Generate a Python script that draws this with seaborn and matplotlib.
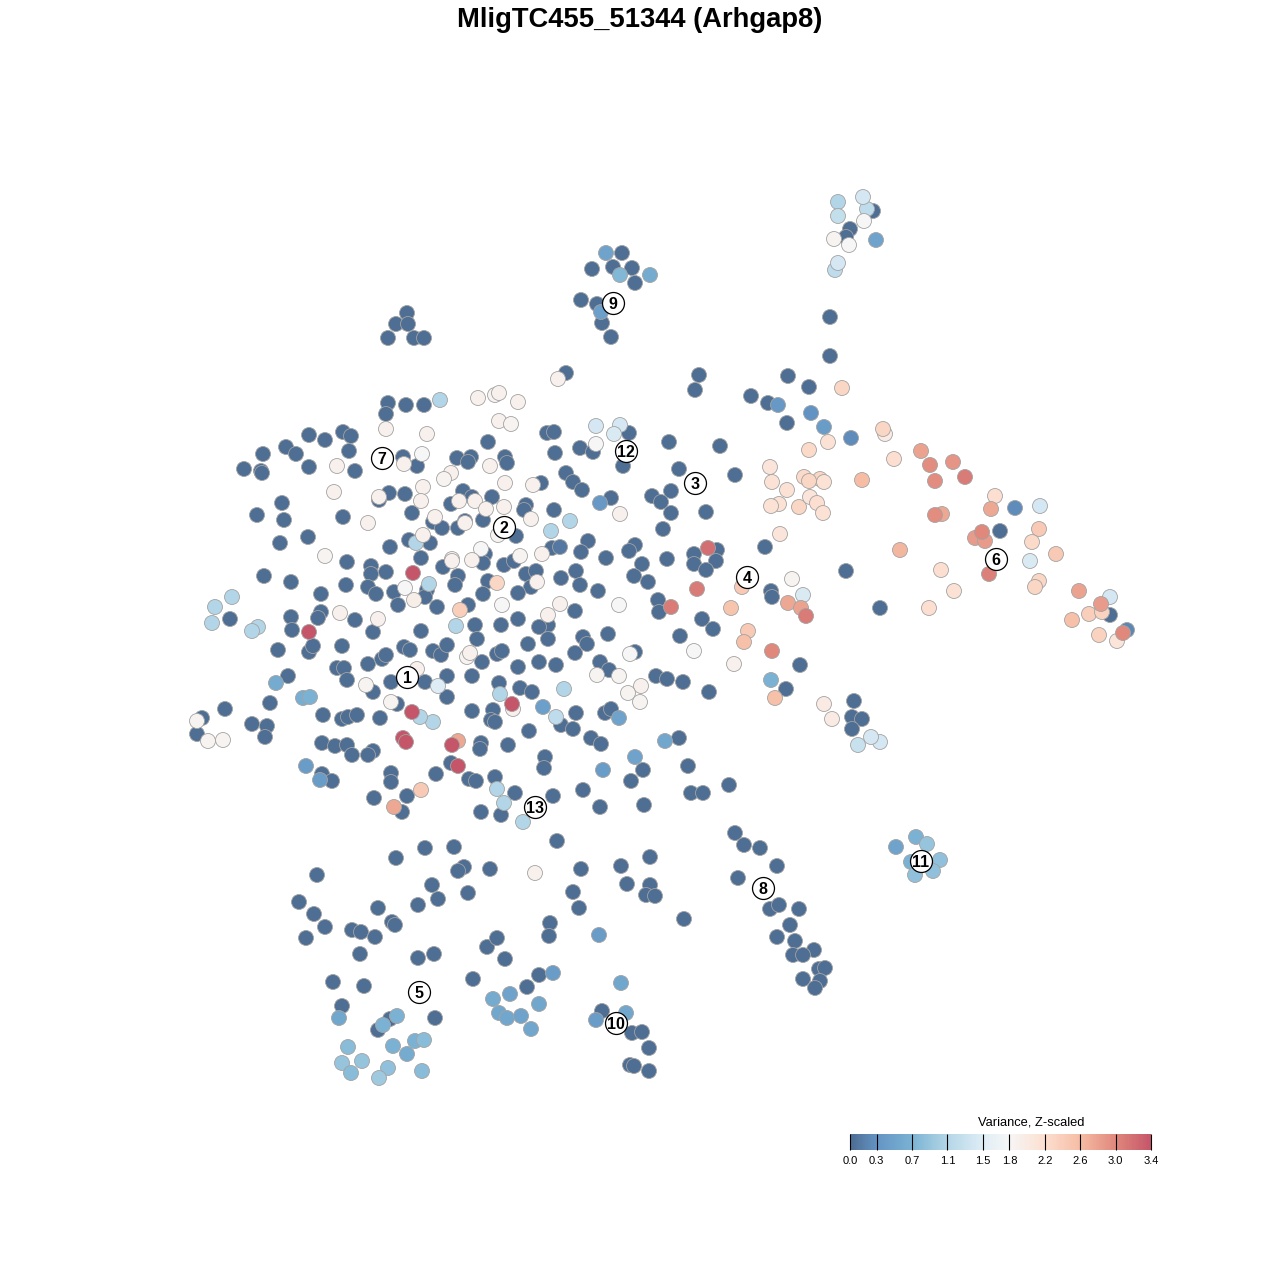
import pandas as pd
import seaborn as sns
import matplotlib.pyplot as plt
from matplotlib.cm import ScalarMappable
from matplotlib.colors import LinearSegmentedColormap, Normalize

gene_title = 'MligTC455_51344 (Arhgap8)'
legend_title = 'Variance, Z-scaled'

# colour scale stops
scale_ticks = [0.0, 0.3, 0.7, 1.1, 1.5, 1.8, 2.2, 2.6, 3.0, 3.4]
scale_colors = ['#4d6c92', '#6494c4', '#7bb3d3', '#b3d6e7', '#dfedf5',
                '#f6f6f6', '#fcdfd0', '#f6bda4', '#e0887c', '#c5566a']

# cells at (almost) zero variance, tSNE coordinates
silent_cells = [
    (388,403),(406,405),(424,405),(386,414),(309,435),(325,440),(343,432),(351,436),(286,447),(296,454),
    (263,454),(349,451),(244,469),(261,471),(262,473),(309,467),(355,471),(403,457),(417,466),(488,442),
    (457,458),(471,457),(468,462),(505,457),(507,463),(389,493),(379,500),(405,494),(282,503),(257,515),
    (284,520),(343,517),(412,513),(463,491),(472,497),(451,504),(492,497),(433,522),(442,528),(458,528),
    (465,521),(483,520),(308,537),(280,543),(390,547),(409,540),(430,543),(421,558),(485,554),(483,563),
    (504,565),(443,567),(458,576),(455,585),(488,581),(483,594),(347,562),(371,566),(371,574),(386,572),
    (264,576),(291,582),(346,585),(368,587),(376,594),(394,592),(321,594),(427,590),(425,597),(398,605),
    (437,607),(468,605),(230,619),(291,617),(321,612),(318,618),(355,620),(292,630),(373,632),(421,631),
    (475,625),(501,625),(278,650),(309,652),(313,646),(342,646),(477,639),(404,647),(410,650),(433,651),
    (441,655),(447,645),(482,662),(497,654),(502,651),(368,664),(382,659),(386,655),(337,668),(344,668),
    (347,680),(288,676),(391,682),(425,682),(447,676),(472,676),(499,683),(373,692),(447,697),(270,703),
    (397,704),(323,715),(342,719),(348,717),(357,715),(380,718),(472,711),(493,710),(491,720),(495,722),
    (225,709),(202,718),(252,724),(267,726),(197,734),(265,737),(322,743),(335,746),(347,745),(352,755),
    (373,751),(368,755),(481,743),(480,749),(508,745),(451,763),(436,774),(322,774),(332,781),(391,773),
    (391,782),(469,779),(476,781),(495,777),(407,796),(374,798),(402,812),(481,812),(501,815),
    (547,433),(554,432),(629,433),(669,442),(720,446),(580,448),(593,452),(555,453),(623,466),(566,473),
    (573,482),(582,490),(679,469),(735,475),(541,483),(671,491),(652,496),(661,502),(671,513),(706,512),
    (611,498),(554,510),(526,505),(524,510),(663,529),(516,536),(588,541),(581,552),(552,548),(635,545),
    (629,551),(606,558),(667,559),(642,564),(717,550),(694,554),(694,564),(716,561),(706,570),(514,561),
    (576,571),(561,578),(580,585),(634,576),(648,582),(598,591),(526,574),(536,571),(531,587),(518,593),
    (658,600),(659,612),(575,611),(702,619),(713,629),(518,619),(548,625),(539,627),(583,637),(608,634),
    (680,636),(528,644),(548,639),(587,644),(575,653),(518,667),(539,662),(556,665),(600,662),(609,670),
    (635,652),(520,688),(532,692),(656,676),(667,679),(683,682),(709,692),(576,713),(605,713),(611,709),
    (561,725),(573,729),(529,731),(591,738),(601,744),(679,738),(545,757),(544,768),(643,770),(688,766),
    (631,781),(515,793),(553,796),(583,790),(691,793),(703,793),(729,785),(600,807),(644,805),(557,841),
    # upper islands
    (873,211),(850,229),(846,237),(830,317),(830,356),(622,253),(613,267),(632,268),(635,283),(592,269),
    (581,300),(597,304),(602,323),(611,337),(407,313),(396,324),(408,324),(388,338),(414,338),(424,338),
    (566,373),(699,375),(695,390),(788,376),(809,387),(751,396),(768,403),(787,423),
    # right side
    (846,571),(880,608),(1000,531),(1110,615),(771,591),(772,597),(800,665),(786,689),(854,701),(852,717),
    (862,719),(852,729),(765,547),
    # lower part
    (396,858),(425,848),(454,847),(464,867),(458,871),(490,869),(317,875),(432,885),(418,905),(438,899),
    (468,893),(299,902),(314,914),(378,908),(325,927),(392,922),(395,925),(352,930),(361,932),(375,937),
    (306,938),(360,954),(487,947),(497,938),(418,958),(434,954),(505,959),(473,979),(333,982),(364,986),
    (342,1006),(435,1018),(539,975),(527,987),(550,923),(549,936),(573,892),(579,908),(581,869),(621,866),
    (650,857),(627,884),(650,885),(646,895),(655,896),(684,919),(378,1030),(390,1019),
    # cluster 8
    (735,833),(744,845),(760,848),(777,866),(738,878),(770,909),(779,905),(799,909),(790,925),(777,937),
    (795,941),(814,950),(793,955),(803,955),(819,969),(825,968),(803,979),(820,981),(815,988),
    # cluster 10
    (602,1011),(632,1033),(642,1032),(649,1048),(630,1065),(634,1066),(649,1071),
]

# expressing cells, (tsne1, tsne2, variance)
blue_cells = [
    (606,253,.5),(620,275,.75),(650,275,.6),(601,312,.45),(778,405,.35),(811,413,.3),(824,427,.4),
    (851,438,.25),(876,240,.5),(1015,508,.25),(600,503,.35),(560,547,.1),(1127,630,.2),(306,766,.4),
    (320,780,.4),(276,683,.6),(303,698,.65),(310,697,.7),(543,707,.45),(619,718,.5),(635,757,.5),
    (665,741,.55),(603,770,.4),(771,680,.7),(599,935,.4),(553,973,.4),(621,983,.55),(510,994,.5),
    (493,999,.6),(499,1013,.55),(507,1018,.55),(521,1016,.5),(539,1004,.55),(531,1029,.55),
    (626,1013,.55),(596,1020,.4),(339,1018,.55),(397,1016,.7),(383,1025,.7),(393,1046,.7),(415,1041,.7),
    (424,1040,.8),(407,1054,.6),(348,1047,.8),(342,1063,.9),(362,1061,.9),(351,1073,.8),(388,1068,.85),
    (379,1078,.95),(422,1071,.8),(916,837,.7),(927,844,.9),(896,847,.5),(911,862,.7),(940,860,.85),
    (915,875,.85),(933,871,.85),
]
pale_cells = [
    (440,400,1.1),(215,607,1.1),(232,597,1.1),(212,623,1.1),(258,627,1.1),(252,631,1.1),(551,531,1.1),
    (570,521,1.1),(456,626,1.1),(429,584,1.1),(416,543,1.1),(564,689,1.1),(500,694,1.1),(433,722,1.1),
    (420,717,1.1),(556,717,1.2),(497,789,1.1),(504,803,1.1),(523,822,1.1),(838,202,1.1),(838,216,1.25),
    (867,209,1.2),(835,270,1.2),(838,263,1.4),(863,197,1.4),(1040,506,1.4),(1030,561,1.45),(1110,597,1.4),
    (596,426,1.4),(620,425,1.4),(614,434,1.45),(880,742,1.4),(871,737,1.4),(858,745,1.3),(803,595,1.45),
    (438,686,1.5),
]
neutral_cells = [
    (834,239,1.85),(849,245,1.8),(864,221,1.8),(386,429,1.9),(427,434,1.9),(422,454,1.8),(404,464,1.9),
    (337,466,1.9),(334,492,1.9),(379,497,1.9),(423,487,1.9),(421,501,1.9),(368,523,1.9),(325,556,1.85),
    (435,517,1.9),(423,535,1.9),(465,523,1.9),(459,501,1.9),(475,501,1.9),(486,509,1.9),(504,507,1.9),
    (451,473,1.9),(444,479,1.85),(490,466,1.9),(505,483,1.9),(499,421,1.9),(511,424,1.85),(478,398,1.9),
    (495,395,1.85),(499,393,1.9),(518,402,1.9),(558,379,1.9),(481,549,1.8),(472,560,1.9),(452,559,1.9),
    (452,561,1.9),(405,588,1.8),(414,600,1.95),(502,605,1.8),(340,613,1.9),(378,619,1.9),(498,535,1.85),
    (533,485,1.9),(531,519,1.9),(620,514,1.9),(596,444,1.8),(520,556,1.85),(542,554,1.9),(537,582,1.9),
    (560,604,1.9),(548,615,1.9),(619,605,1.8),(467,657,1.85),(470,653,1.9),(630,654,1.8),(694,651,1.8),
    (734,664,1.9),(597,675,1.85),(619,676,1.85),(641,686,1.9),(628,693,1.85),(640,702,1.85),(513,709,1.9),
    (417,669,1.9),(366,685,1.85),(391,702,1.85),(197,721,1.85),(208,741,1.85),(223,740,1.85),(535,873,1.9),
    (824,704,2.0),(832,719,2.0),(792,579,1.85),(885,434,2.0),
]
warm_cells = [
    (460,610,2.4),(497,583,2.3),(458,741,2.75),(421,790,2.45),(394,807,2.75),(842,388,2.3),(883,429,2.3),
    (828,442,2.15),(809,450,2.25),(894,459,2.2),(770,467,2.1),(772,482,2.15),(804,477,2.25),
    (820,479,2.3),(824,482,2.15),(809,481,2.3),(862,480,2.6),(787,490,2.15),(779,504,2.15),(771,506,2.15),
    (799,507,2.3),(810,497,2.1),(817,503,2.2),(823,513,2.15),(780,534,2.1),(995,496,2.2),(991,509,2.75),
    (942,514,2.75),(1039,529,2.45),(1032,542,2.25),(900,550,2.65),(1056,554,2.45),(941,570,2.2),(954,591,2.15),
    (1039,581,2.3),(1035,587,2.3),(1079,591,2.8),(929,608,2.2),(1089,614,2.4),(1102,612,2.35),(1072,620,2.55),
    (1099,635,2.35),(1117,641,2.1),(742,587,2.45),(731,608,2.5),(748,631,2.45),(744,642,2.55),(788,603,2.75),
    (775,698,2.55),
]
red_cells = [
    (921,451,2.8),(930,465,2.95),(953,462,2.9),(965,477,3.1),(935,481,2.95),(935,515,2.95),(975,538,2.85),
    (985,541,2.85),(982,532,3.0),(989,574,3.05),(1101,604,2.85),(1123,633,3.0),(801,608,2.8),(806,616,3.1),
    (772,651,3.0),(708,548,3.2),(697,589,3.1),(671,607,3.1),(413,573,3.4),(309,632,3.4),(412,712,3.4),
    (512,704,3.4),(403,738,3.4),(406,742,3.4),(452,745,3.4),(458,766,3.4),
]

# cluster labels
cluster_ids = ['1', '2', '3', '4', '5', '6', '7', '8', '9', '10', '11', '12', '13']
cluster_x = [407, 504, 695, 747, 419, 996, 382, 763, 613, 616, 921, 626, 535]
cluster_y = [677, 527, 483, 577, 992, 559, 458, 888, 303, 1023, 861, 451, 807]

# Build one table, silent cells first so the others land on top
rows = [(x, y, 0.02) for x, y in silent_cells]
rows += blue_cells + pale_cells + neutral_cells + warm_cells + red_cells
cells = pd.DataFrame(rows, columns=['tsne1', 'tsne2', 'variance'])

sns.set_theme(style='white')
plt.rcParams['font.family'] = ['Liberation Sans', 'DejaVu Sans']

stops = [v / scale_ticks[-1] for v in scale_ticks]
cmap = LinearSegmentedColormap.from_list('variance', list(zip(stops, scale_colors)))
norm = Normalize(scale_ticks[0], scale_ticks[-1])

fig = plt.figure(figsize=(12.8, 12.8), dpi=100)
ax = fig.add_axes([0, 0, 1, 1])

sns.scatterplot(data=cells, x='tsne1', y='tsne2', hue='variance', hue_norm=norm, palette=cmap,
                s=116, linewidth=0.6, edgecolor='#a3a3a3', legend=False, ax=ax)

# Cluster number badges
sns.scatterplot(x=cluster_x, y=cluster_y, s=250, color='white', edgecolor='black', linewidth=0.9,
                legend=False, ax=ax, zorder=5)
for label, x, y in zip(cluster_ids, cluster_x, cluster_y):
    ax.text(x, y, label, ha='center', va='center_baseline', fontsize=11.5, fontweight='bold',
            color='black', zorder=6)

ax.set_xlim(0, 1280)
ax.set_ylim(1280, 0)
ax.axis('off')

fig.text(0.5, 1 - 20 / 1280, gene_title, ha='center', va='center', fontsize=19.7, fontweight='bold',
         color='black')

# Colour bar
cax = fig.add_axes([850 / 1280, 1 - 1150 / 1280, 301 / 1280, 16 / 1280])
cbar = fig.colorbar(ScalarMappable(norm=norm, cmap=cmap), cax=cax, orientation='horizontal')
cbar.outline.set_visible(False)
cbar.set_ticks(scale_ticks)
cbar.set_ticklabels([f'{v:.1f}' for v in scale_ticks])
cax.set_axisbelow(False)
cbar.ax.tick_params(axis='x', direction='in', length=11.5, width=0.8, color='black', labelsize=8,
                    pad=4, labelcolor='black')
cbar.ax.tick_params(which='minor', length=0)
fig.text(1031 / 1280, 1 - 1122.5 / 1280, legend_title, ha='center', va='center', fontsize=9.3, color='black')

plt.savefig('out.png', dpi=100)
plt.close()
